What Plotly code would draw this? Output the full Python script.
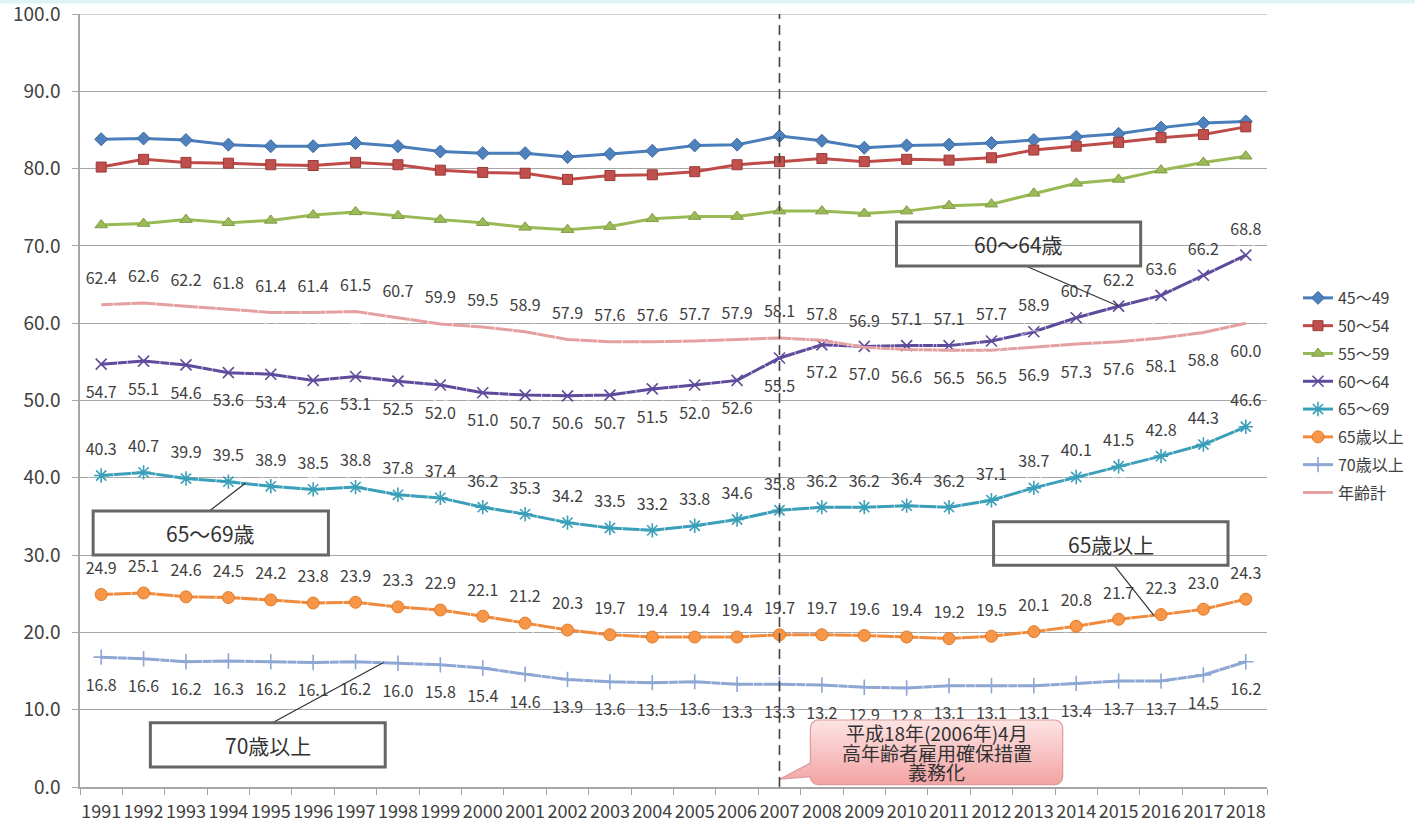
import numpy as np
import plotly.graph_objects as go

# 年次
years = list(range(1991, 2019))

# 年齢階級別の就業率（%）
age_45_49 = [83.8, 83.9, 83.7, 83.1, 82.9, 82.9, 83.3, 82.9, 82.2, 82.0,
             82.0, 81.5, 81.9, 82.3, 83.0, 83.1, 84.2, 83.6, 82.7, 83.0,
             83.1, 83.3, 83.7, 84.1, 84.5, 85.3, 85.9, 86.1]
age_50_54 = [80.2, 81.2, 80.8, 80.7, 80.5, 80.4, 80.8, 80.5, 79.8, 79.5,
             79.4, 78.6, 79.1, 79.2, 79.6, 80.5, 80.9, 81.3, 80.9, 81.2,
             81.1, 81.4, 82.4, 82.9, 83.4, 84.0, 84.4, 85.4]
age_55_59 = [72.7, 72.9, 73.4, 73.0, 73.3, 74.0, 74.4, 73.9, 73.4, 73.0,
             72.4, 72.1, 72.5, 73.5, 73.8, 73.8, 74.5, 74.5, 74.2, 74.5,
             75.2, 75.4, 76.8, 78.1, 78.6, 79.8, 80.8, 81.6]
age_60_64 = [54.7, 55.1, 54.6, 53.6, 53.4, 52.6, 53.1, 52.5, 52.0, 51.0,
             50.7, 50.6, 50.7, 51.5, 52.0, 52.6, 55.5, 57.2, 57.0, 57.1,
             57.1, 57.7, 58.9, 60.7, 62.2, 63.6, 66.2, 68.8]
age_65_69 = [40.3, 40.7, 39.9, 39.5, 38.9, 38.5, 38.8, 37.8, 37.4, 36.2,
             35.3, 34.2, 33.5, 33.2, 33.8, 34.6, 35.8, 36.2, 36.2, 36.4,
             36.2, 37.1, 38.7, 40.1, 41.5, 42.8, 44.3, 46.6]
age_65_over = [24.9, 25.1, 24.6, 24.5, 24.2, 23.8, 23.9, 23.3, 22.9, 22.1,
               21.2, 20.3, 19.7, 19.4, 19.4, 19.4, 19.7, 19.7, 19.6, 19.4,
               19.2, 19.5, 20.1, 20.8, 21.7, 22.3, 23.0, 24.3]
age_70_over = [16.8, 16.6, 16.2, 16.3, 16.2, 16.1, 16.2, 16.0, 15.8, 15.4,
               14.6, 13.9, 13.6, 13.5, 13.6, 13.3, 13.3, 13.2, 12.9, 12.8,
               13.1, 13.1, 13.1, 13.4, 13.7, 13.7, 14.5, 16.2]
age_total = [62.4, 62.6, 62.2, 61.8, 61.4, 61.4, 61.5, 60.7, 59.9, 59.5,
             58.9, 57.9, 57.6, 57.6, 57.7, 57.9, 58.1, 57.8, 56.9, 56.6,
             56.5, 56.5, 56.9, 57.3, 57.6, 58.1, 58.8, 60.0]

y_ticks = list(range(0, 101, 10))

FONT = "Noto Sans CJK JP, Noto Sans, sans-serif"
TEXT = "#404040"
GRID = "#a6a6a6"
LABEL_SIZE = 16

fig = go.Figure()

series = [
    ("45〜49", age_45_49, "#4a7ebb", dict(symbol="diamond", size=10, color="#4f81bd",
                                          line=dict(color="#3c6aa5", width=1))),
    ("50〜54", age_50_54, "#be4b48", dict(symbol="square", size=10, color="#c0504d",
                                          line=dict(color="#9c3a37", width=1))),
    ("55〜59", age_55_59, "#98b954", dict(symbol="triangle-up", size=11, color="#9bbb59",
                                          line=dict(color="#7f9a45", width=1))),
    ("60〜64", age_60_64, "#5e4b9c", dict(symbol="x-thin-open", size=11,
                                          line=dict(color="#7e6bb8", width=1.6))),
    ("65〜69", age_65_69, "#3a9fb8", dict(symbol="asterisk-open", size=12,
                                          line=dict(color="#4bacc6", width=1.6))),
    ("65歳以上", age_65_over, "#f08a3c", dict(symbol="circle", size=12, color="#f79646",
                                            line=dict(color="#e07b28", width=1))),
    ("70歳以上", age_70_over, "#8da6d4", dict(symbol="cross-thin-open", size=11,
                                            line=dict(color="#8da6d4", width=1.6))),
]

for i, (name, vals, lc, mk) in enumerate(series):
    fig.add_trace(go.Scatter(
        x=years, y=vals, name=name, mode="lines+markers",
        line=dict(color=lc, width=3), marker=mk,
        legendgroup=f"g{i}", hoverinfo="skip"))

fig.add_trace(go.Scatter(
    x=years, y=age_total, name="年齢計", mode="lines",
    line=dict(color="#e4a0a0", width=3), legendgroup="g7", hoverinfo="skip"))

# データラベル（上 / 下）: 透明マーカーの大きさで線からの距離を調整
UP_PAD, DOWN_PAD = 25, 33
label_specs = [
    (age_60_64, ["bottom" if y <= 2009 else "top" for y in years]),
    (age_65_69, ["top"] * len(years)),
    (age_65_over, ["top"] * len(years)),
    (age_70_over, ["bottom"] * len(years)),
    (age_total, ["top" if y <= 2009 else "bottom" for y in years]),
]
for vals, sides in label_specs:
    fig.add_trace(go.Scatter(
        x=years, y=vals, mode="markers+text",
        text=[f"{v:.1f}" for v in vals],
        textposition=[f"{s} center" for s in sides],
        textfont=dict(family=FONT, size=LABEL_SIZE, color=TEXT),
        marker=dict(size=[UP_PAD if s == "top" else DOWN_PAD for s in sides],
                    color="rgba(0,0,0,0)"),
        cliponaxis=False, showlegend=False, hoverinfo="skip"))

# 施行時期の吹き出し（角丸の枠＋指し示し）
px_x = 42.37   # 1年あたりのピクセル幅
px_y = 7.73    # 1ポイントあたりのピクセル高さ
bx0, bx1, by0, by1 = 2007.73, 2013.68, 0.3, 8.67
rx, ry = 8 / px_x, 8 / px_y


def arc(cx, cy, a0, a1):
    t = np.linspace(np.radians(a0), np.radians(a1), 8)
    return list(cx + rx * np.cos(t)), list(cy + ry * np.sin(t))


cx_, cy_ = [], []
for (cx, cy, a0, a1) in [(bx1 - rx, by1 - ry, 90, 0), (bx1 - rx, by0 + ry, 0, -90),
                         (bx0 + rx, by0 + ry, -90, -180)]:
    ax_, ay_ = arc(cx, cy, a0, a1)
    cx_ += ax_
    cy_ += ay_
cx_ += [2007.0, bx0]
cy_ += [1.0, 3.1]
ax_, ay_ = arc(bx0 + rx, by1 - ry, 180, 90)
cx_ += ax_ + [cx_[0]]
cy_ += ay_ + [cy_[0]]

fig.add_trace(go.Scatter(
    x=cx_, y=cy_, mode="lines", fill="toself",
    fillgradient=dict(type="vertical",
                      colorscale=[[0, "#f3a3a3"], [1, "#fde4e4"]]),
    line=dict(color="#de9a9a", width=1.2), showlegend=False, hoverinfo="skip"))

callout_lines = ["平成18年(2006年)4月", "高年齢者雇用確保措置", "義務化"]
for k, t in enumerate(callout_lines):
    fig.add_annotation(x=(bx0 + bx1) / 2, y=(by0 + by1) / 2, text=t, showarrow=False,
                       yshift=19.5 - 19.5 * k, font=dict(family=FONT, size=19, color="#333333"))

# 系列名の囲みと引出線
boxes = [
    ("60〜64歳", (2009.76, 2015.52, 67.4, 73.1), (2012.81, 67.4), (2015.0, 62.2)),
    ("65〜69歳", (1990.81, 1996.36, 30.0, 35.7), (1993.55, 35.7), (1994.4, 39.3)),
    ("65歳以上", (2012.05, 2017.58, 28.7, 34.3), (2014.89, 28.7), (2015.83, 22.2)),
    ("70歳以上", (1992.16, 1997.70, 2.6, 8.3), (1995.04, 8.3), (1997.66, 16.1)),
]
for text, (x0, x1, y0, y1), (lx0, ly0), (lx1, ly1) in boxes:
    fig.add_shape(type="line", x0=lx0, y0=ly0, x1=lx1, y1=ly1,
                  line=dict(color="#333333", width=1.2), layer="above")
    fig.add_shape(type="rect", x0=x0, x1=x1, y0=y0, y1=y1,
                  line=dict(color="#666666", width=3), layer="above")
    fig.add_annotation(x=(x0 + x1) / 2, y=(y0 + y1) / 2, text=text, showarrow=False,
                       font=dict(family=FONT, size=21, color="#333333"))

# 上端の目盛線（100.0）
fig.add_shape(type="line", xref="paper", x0=0, x1=1, y0=y_ticks[-1], y1=y_ticks[-1],
              line=dict(color=GRID, width=1.2), layer="below")

# 2007年の区切り線
fig.add_shape(type="line", x0=2007, x1=2007, y0=0, y1=100,
              line=dict(color="#404040", width=1.6, dash="10px,6px"), layer="above")

# 上端の帯
fig.add_shape(type="rect", xref="paper", yref="paper", x0=-0.07, x1=1.13,
              y0=1.0135, y1=1.0185, line=dict(width=0), fillcolor="#dff4f6", layer="below")

fig.update_layout(
    width=1415, height=823,
    margin=dict(l=80, r=148, t=14, b=36),
    paper_bgcolor="white", plot_bgcolor="white",
    font=dict(family=FONT, color=TEXT),
    showlegend=True,
    legend=dict(xref="container", yref="container",
                x=0.9173, xanchor="left", y=0.6586, yanchor="top",
                font=dict(family=FONT, size=16, color=TEXT),
                tracegroupgap=4, itemwidth=30, bgcolor="rgba(0,0,0,0)"),
    xaxis=dict(range=[1990.5, 2018.5], tickvals=years, ticktext=[str(y) for y in years],
               tickangle=0, showgrid=False, zeroline=False, automargin=False,
               showline=True, linecolor=GRID, linewidth=1.5,
               ticks="outside", ticklen=8, tickcolor="rgba(0,0,0,0)",
               minor=dict(tick0=1990.5, dtick=1, ticks="outside", ticklen=6,
                          tickcolor=GRID, showgrid=False),
               tickfont=dict(family=FONT, size=18, color=TEXT)),
    yaxis=dict(range=[0, 100], tickvals=y_ticks, tickformat=".1f",
               showgrid=True, gridcolor=GRID, gridwidth=1.2, zeroline=False,
               automargin=False, ticklabeloverflow="allow",
               showline=True, linecolor=GRID, linewidth=1.5,
               ticks="outside", ticklen=6, tickcolor=GRID, ticklabelstandoff=8,
               tickfont=dict(family=FONT, size=19, color=TEXT)),
)

fig.write_html("out.html")
